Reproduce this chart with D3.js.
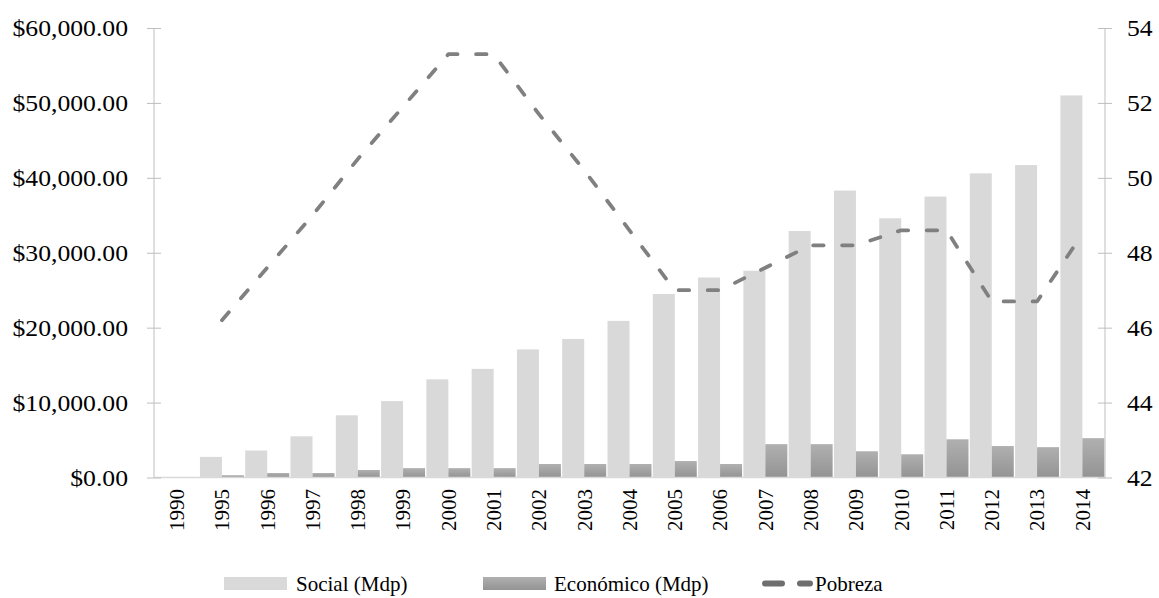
<!DOCTYPE html>
<html>
<head>
<meta charset="utf-8">
<script src="https://cdn.jsdelivr.net/npm/d3@7/dist/d3.min.js"></script>
<style>
  html, body { margin: 0; padding: 0; background: #ffffff; }
  svg text { font-family: "Liberation Serif", "Times New Roman", "DejaVu Serif", serif; fill: #000; }
</style>
</head>
<body>
<svg id="chart" width="1159" height="598"></svg>
<script>
const years = ["1990","1995","1996","1997","1998","1999","2000","2001","2002","2003","2004","2005","2006","2007","2008","2009","2010","2011","2012","2013","2014"];
const social = [0, 2750, 3600, 5500, 8300, 10200, 13100, 14500, 17100, 18500, 20900, 24500, 26700, 27600, 32900, 38300, 34600, 37500, 40600, 41700, 51000];
const economico = [0, 300, 600, 600, 1000, 1250, 1250, 1250, 1800, 1800, 1800, 2200, 1800, 4450, 4450, 3500, 3100, 5100, 4200, 4050, 5250];
const pobreza = [null, 46.2, 47.6, 49.0, 50.5, 51.9, 53.3, 53.3, 51.7, 50.2, 48.6, 47.0, 47.0, 47.6, 48.2, 48.2, 48.6, 48.6, 46.7, 46.7, 48.5];
const leftTicks = [0, 10000, 20000, 30000, 40000, 50000, 60000];
const rightTicks = [42, 44, 46, 48, 50, 52, 54];
const seriesNames = ["Social (Mdp)", "Económico (Mdp)", "Pobreza"];

(function () {
const svg = d3.select("#chart");
const pLeft = 154, pRight = 1105, pTop = 28, pBottom = 477.5;
const axisFont = 24, catFont = 21, legendFont = 21;
const stretch = 1.07;

const defs = svg.append("defs");
const grad = defs.append("linearGradient").attr("id", "econGrad")
  .attr("x1", 0).attr("y1", 0).attr("x2", 0).attr("y2", 1);
grad.append("stop").attr("offset", "0%").attr("stop-color", "#b0b0b0");
grad.append("stop").attr("offset", "100%").attr("stop-color", "#939393");

const x = d3.scaleBand().domain(years).range([pLeft, pRight]).paddingInner(0).paddingOuter(0);
const sub = d3.scaleBand().domain(["s", "e"]).range([0, x.bandwidth()]).paddingInner(0).paddingOuter(0.03);
const yL = d3.scaleLinear().domain([0, 60000]).range([pBottom, pTop]);
const yR = d3.scaleLinear().domain([42, 54]).range([pBottom, pTop]);

const rows = years.map((yr, i) => ({ yr, s: social[i], e: economico[i], p: pobreza[i] }));

// bars
svg.append("g").selectAll("rect").data(rows).join("rect")
  .attr("x", d => x(d.yr) + sub("s"))
  .attr("y", d => yL(d.s))
  .attr("width", sub.bandwidth())
  .attr("height", d => pBottom - yL(d.s))
  .attr("fill", "#d9d9d9");
svg.append("g").selectAll("rect").data(rows).join("rect")
  .attr("x", d => x(d.yr) + sub("e"))
  .attr("y", d => yL(d.e))
  .attr("width", sub.bandwidth())
  .attr("height", d => pBottom - yL(d.e))
  .attr("fill", "url(#econGrad)");

// category axis line
svg.append("line").attr("x1", pLeft).attr("x2", pRight).attr("y1", pBottom).attr("y2", pBottom)
  .attr("stroke", "#d9d9d9").attr("stroke-width", 1.5);

// left axis
const gL = svg.append("g").attr("transform", `translate(${pLeft},0)`)
  .call(d3.axisLeft(yL).tickValues(leftTicks).tickSize(7)
    .tickFormat(d => "$" + d3.format(",.2f")(d)));
gL.select(".domain").attr("stroke", "#bfbfbf").attr("d", `M0,${pTop}V${pBottom}`);
gL.selectAll(".tick line").attr("stroke", "#bfbfbf").attr("x2", 7).attr("x1", -7);
gL.selectAll(".tick text").attr("font-size", axisFont).attr("fill", "#000").attr("dy", "0.33em")
  .attr("x", -26 / stretch).attr("transform", `scale(${stretch},1)`);

// right axis
const gR = svg.append("g").attr("transform", `translate(${pRight},0)`)
  .call(d3.axisRight(yR).tickValues(rightTicks).tickSize(7));
gR.select(".domain").attr("stroke", "#bfbfbf").attr("d", `M0,${pTop}V${pBottom}`);
gR.selectAll(".tick line").attr("stroke", "#bfbfbf").attr("x1", -7).attr("x2", 7);
gR.selectAll(".tick text").attr("font-size", axisFont).attr("fill", "#000").attr("dy", "0.33em")
  .attr("x", 22 / stretch).attr("transform", `scale(${stretch},1)`);

// category labels
svg.append("g").selectAll("text").data(years).join("text")
  .attr("transform", d => `translate(${x(d) + x.bandwidth() / 2},489) rotate(-90)`)
  .attr("text-anchor", "end")
  .attr("dy", "0.35em")
  .attr("font-size", catFont)
  .text(d => d);

// poverty line
const line = d3.line()
  .defined(d => d.p !== null)
  .x(d => x(d.yr) + x.bandwidth() / 2)
  .y(d => yR(d.p));
svg.append("path").datum(rows).attr("d", line)
  .attr("fill", "none").attr("stroke", "#808080").attr("stroke-width", 3.75)
  .attr("stroke-linecap", "round").attr("stroke-linejoin", "round")
  .attr("stroke-dasharray", "10.5,18.5");

// legend
const lg = svg.append("g");
function legendText(xPos, label) {
  lg.append("text").attr("x", xPos).attr("y", 591).attr("font-size", legendFont).text(label);
}
lg.append("rect").attr("x", 224).attr("y", 577).attr("width", 63).attr("height", 13).attr("fill", "#d9d9d9");
legendText(296, seriesNames[0]);
lg.append("rect").attr("x", 483).attr("y", 577).attr("width", 63).attr("height", 13).attr("fill", "url(#econGrad)");
legendText(554, seriesNames[1]);
lg.append("line").attr("x1", 765).attr("x2", 810).attr("y1", 583.5).attr("y2", 583.5)
  .attr("stroke", "#6e6e6e").attr("stroke-width", 6).attr("stroke-linecap", "round")
  .attr("stroke-dasharray", "17,18");
legendText(815, seriesNames[2]);
})();
</script>
</body>
</html>
